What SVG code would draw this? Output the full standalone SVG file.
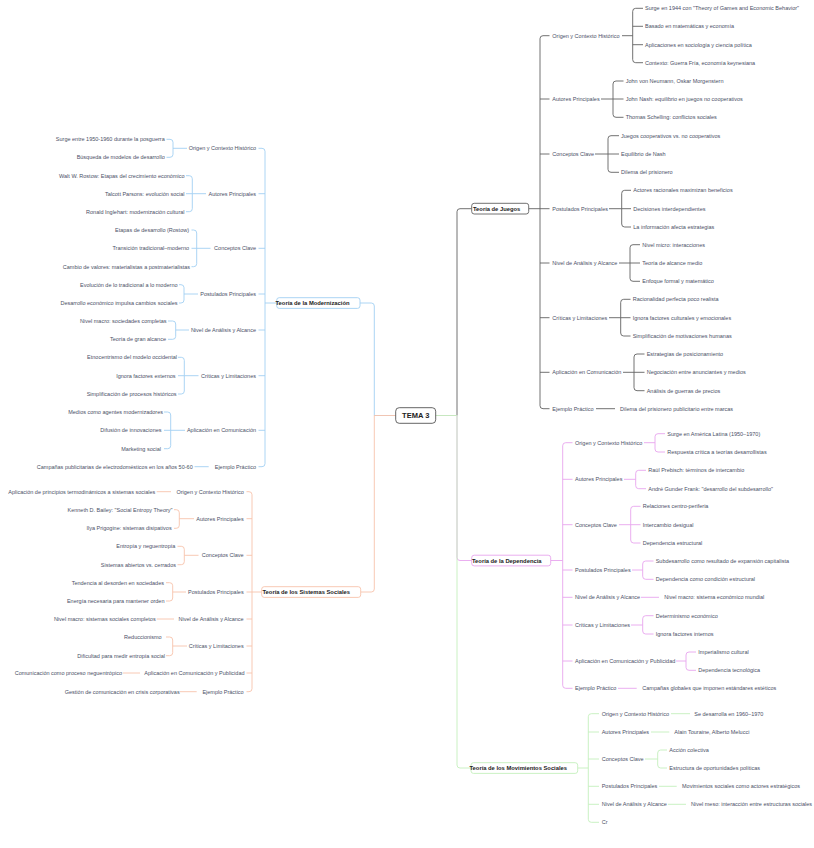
<svg xmlns="http://www.w3.org/2000/svg" width="814" height="848" viewBox="0 0 814 848">
<style>
text{font-family:"Liberation Sans",Arial,sans-serif;dominant-baseline:central}
.t{font-size:5.5px;fill:#4a4f66}
.e{text-anchor:end}
.h{font-size:5.8px;font-weight:bold;fill:#222}
.r{font-size:7.5px;font-weight:bold;fill:#222;text-anchor:middle}
.box{fill:#fff;stroke-width:0.9}
.ln{fill:none;stroke-width:0.9;stroke-linejoin:round}
.gy{stroke:#626262}.bl{stroke:#a3d0f3}.pk{stroke:#e8a5ee}.gr{stroke:#c4efbc}.or{stroke:#f7c3ac}
</style>
<rect width="814" height="848" fill="#fff"/>
<g id="connectors">
<path class="ln gy" d="M435.7 415.5H457V211.7Q457 208.7 460 208.7H471.7"/>
<path class="ln pk" d="M435.7 415.5H457V557.5Q457 560.5 460 560.5H471.7"/>
<path class="ln gr" d="M435.7 415.5H457V765Q457 768 460 768H471"/>
<path class="ln bl" d="M395.7 415.5H374.3V306Q374.3 303 371.3 303H360"/>
<path class="ln or" d="M395.7 415.5H374.3V589Q374.3 592 371.3 592H360.7"/>
<path class="ln gy" d="M528.7 208.7H540M549.5 35.7H543Q540 35.7 540 38.7V405.7Q540 408.7 543 408.7H549.5M540 99H549.5M540 154H549.5M540 208.7H549.5M540 263H549.5M540 317.7H549.5M540 372.3H549.5"/>
<path class="ln gy" d="M622 35.7H632.7M643 8.3H635.7Q632.7 8.3 632.7 11.3V59.7Q632.7 62.7 635.7 62.7H643M632.7 26.3H643M632.7 44.7H643"/>
<path class="ln gy" d="M601 99H613M623.5 81H616Q613 81 613 84V114.3Q613 117.3 616 117.3H623.5M613 99H623.5"/>
<path class="ln gy" d="M595 154H608M619 135.7H611Q608 135.7 608 138.7V169.3Q608 172.3 611 172.3H619M608 154H619"/>
<path class="ln gy" d="M609 208.7H621.7M631 190.3H624.7Q621.7 190.3 621.7 193.3V224Q621.7 227 624.7 227H631M621.7 208.7H631"/>
<path class="ln gy" d="M619 263H630M640 244.7H633Q630 244.7 630 247.7V278.3Q630 281.3 633 281.3H640M630 263H640"/>
<path class="ln gy" d="M609 317.7H620.7M630.5 299.3H623.7Q620.7 299.3 620.7 302.3V333Q620.7 336 623.7 336H630.5M620.7 317.7H630.5"/>
<path class="ln gy" d="M623 372.3H634M644.5 354H637Q634 354 634 357V387.7Q634 390.7 637 390.7H644.5M634 372.3H644.5"/>
<path class="ln gy" d="M596 408.7H615"/>
<path class="ln pk" d="M550.7 560.5H562.7M572.5 442.7H565.7Q562.7 442.7 562.7 445.7V685.3Q562.7 688.3 565.7 688.3H572.5M562.7 479.3H572.5M562.7 524.7H572.5M562.7 570H572.5M562.7 597.3H572.5M562.7 625H572.5M562.7 661H572.5"/>
<path class="ln pk" d="M644 442.7H655M665 433.7H658Q655 433.7 655 436.7V449Q655 452 658 452H665"/>
<path class="ln pk" d="M624 479.3H635.7M646 470.3H638.7Q635.7 470.3 635.7 473.3V485.7Q635.7 488.7 638.7 488.7H646"/>
<path class="ln pk" d="M619 524.7H630.7M640.5 506.3H633.7Q630.7 506.3 630.7 509.3V540Q630.7 543 633.7 543H640.5M630.7 524.7H640.5"/>
<path class="ln pk" d="M632 570H642.7M653.5 561H645.7Q642.7 561 642.7 564V576.3Q642.7 579.3 645.7 579.3H653.5"/>
<path class="ln pk" d="M641 597.3H659"/>
<path class="ln pk" d="M631 625H642.7M653.5 615.7H645.7Q642.7 615.7 642.7 618.7V631Q642.7 634 645.7 634H653.5"/>
<path class="ln pk" d="M676 661H686M696 652H689Q686 652 686 655V667.3Q686 670.3 689 670.3H696"/>
<path class="ln pk" d="M618 688.3H636.7"/>
<path class="ln gr" d="M577.7 768H588.3M599 713.7H591.3Q588.3 713.7 588.3 716.7V819.3Q588.3 822.3 591.3 822.3H599M588.3 732H599M588.3 759H599M588.3 786.3H599M588.3 804.3H599"/>
<path class="ln gr" d="M671 713.7H690"/>
<path class="ln gr" d="M651 732H669.3"/>
<path class="ln gr" d="M645 759H657.7M667 750H660.7Q657.7 750 657.7 753V765Q657.7 768 660.7 768H667"/>
<path class="ln gr" d="M659 786.3H676.7"/>
<path class="ln gr" d="M668 804.3H686"/>
<path class="ln bl" d="M276.7 303H265M258.5 148.3H262Q265 148.3 265 151.3V463.7Q265 466.7 262 466.7H258.5M265 193.7H258.5M265 248.3H258.5M265 294H258.5M265 330H258.5M265 375.7H258.5M265 430.3H258.5"/>
<path class="ln bl" d="M187 148.3H173M166.5 139.3H170Q173 139.3 173 142.3V154.3Q173 157.3 170 157.3H166.5"/>
<path class="ln bl" d="M206 193.7H192.3M186 175.7H189.3Q192.3 175.7 192.3 178.7V208.7Q192.3 211.7 189.3 211.7H186M192.3 193.7H186"/>
<path class="ln bl" d="M210.5 248.3H196.7M191.5 230H193.7Q196.7 230 196.7 233V263.7Q196.7 266.7 193.7 266.7H191.5M196.7 248.3H191.5"/>
<path class="ln bl" d="M198 294H184M179 284.7H181Q184 284.7 184 287.7V300Q184 303 181 303H179"/>
<path class="ln bl" d="M189 330H175.7M168 321H172.7Q175.7 321 175.7 324V336.3Q175.7 339.3 172.7 339.3H168"/>
<path class="ln bl" d="M198.5 375.7H184.3M178 357.3H181.3Q184.3 357.3 184.3 360.3V391Q184.3 394 181.3 394H178M184.3 375.7H178"/>
<path class="ln bl" d="M185 430.3H170.7M164 412H167.7Q170.7 412 170.7 415V445.7Q170.7 448.7 167.7 448.7H164M170.7 430.3H164"/>
<path class="ln bl" d="M208.7 466.7H194.5"/>
<path class="ln or" d="M261.7 592H252M246.5 491.7H249Q252 491.7 252 494.7V688.7Q252 691.7 249 691.7H246.5M252 518.7H246.5M252 555.3H246.5M252 592H246.5M252 619H246.5M252 646H246.5M252 673H246.5"/>
<path class="ln or" d="M171 491.7H156.7"/>
<path class="ln or" d="M194 518.7H179.3M174 509.7H176.3Q179.3 509.7 179.3 512.7V525.3Q179.3 528.3 176.3 528.3H174"/>
<path class="ln or" d="M198.5 555.3H184.3M177.5 546.3H181.3Q184.3 546.3 184.3 549.3V561.7Q184.3 564.7 181.3 564.7H177.5"/>
<path class="ln or" d="M186 592H172.7M166 582.7H169.7Q172.7 582.7 172.7 585.7V598Q172.7 601 169.7 601H166"/>
<path class="ln or" d="M174 619H156.7"/>
<path class="ln or" d="M187 646H172.7M166 637H169.7Q172.7 637 172.7 640V652.7Q172.7 655.7 169.7 655.7H166"/>
<path class="ln or" d="M140 673H122.7"/>
<path class="ln or" d="M196.7 691.7H180"/>
</g>
<g id="root"><rect class="box" x="395.7" y="407.7" width="40" height="15.6" rx="3.5" stroke="#555"/><text class="r" x="415.7" y="415.7">TEMA 3</text></g>
<g id="juegos"><rect class="box" x="471.7" y="203.3" width="57" height="10.7" rx="2.5" stroke="#626262"/><text class="h" x="473" y="208.7">Teoría de Juegos</text></g>
<g id="j-origen"><text class="t" x="552.3" y="35.7">Origen y Contexto Histórico</text></g>
<g id="j-origen-1"><text class="t" x="645" y="8.3">Surge en 1944 con "Theory of Games and Economic Behavior"</text></g>
<g id="j-origen-2"><text class="t" x="645" y="26.3">Basado en matemáticas y economía</text></g>
<g id="j-origen-3"><text class="t" x="645" y="44.7">Aplicaciones en sociología y ciencia política</text></g>
<g id="j-origen-4"><text class="t" x="645" y="62.7">Contexto: Guerra Fría, economía keynesiana</text></g>
<g id="j-autores"><text class="t" x="552.3" y="99">Autores Principales</text></g>
<g id="j-autores-1"><text class="t" x="625.7" y="81">John von Neumann, Oskar Morgenstern</text></g>
<g id="j-autores-2"><text class="t" x="625.7" y="99">John Nash: equilibrio en juegos no cooperativos</text></g>
<g id="j-autores-3"><text class="t" x="625.7" y="117.3">Thomas Schelling: conflictos sociales</text></g>
<g id="j-conceptos"><text class="t" x="552.3" y="154">Conceptos Clave</text></g>
<g id="j-conceptos-1"><text class="t" x="621" y="135.7">Juegos cooperativos vs. no cooperativos</text></g>
<g id="j-conceptos-2"><text class="t" x="621" y="154">Equilibrio de Nash</text></g>
<g id="j-conceptos-3"><text class="t" x="621" y="172.3">Dilema del prisionero</text></g>
<g id="j-postulados"><text class="t" x="552.3" y="208.7">Postulados Principales</text></g>
<g id="j-postulados-1"><text class="t" x="633.3" y="190.3">Actores racionales maximizan beneficios</text></g>
<g id="j-postulados-2"><text class="t" x="633.3" y="208.7">Decisiones interdependientes</text></g>
<g id="j-postulados-3"><text class="t" x="633.3" y="227">La información afecta estrategias</text></g>
<g id="j-nivel"><text class="t" x="552.3" y="263">Nivel de Análisis y Alcance</text></g>
<g id="j-nivel-1"><text class="t" x="642.3" y="244.7">Nivel micro: interacciones</text></g>
<g id="j-nivel-2"><text class="t" x="642.3" y="263">Teoría de alcance medio</text></g>
<g id="j-nivel-3"><text class="t" x="642.3" y="281.3">Enfoque formal y matemático</text></g>
<g id="j-criticas"><text class="t" x="552.3" y="317.7">Críticas y Limitaciones</text></g>
<g id="j-criticas-1"><text class="t" x="632.7" y="299.3">Racionalidad perfecta poco realista</text></g>
<g id="j-criticas-2"><text class="t" x="632.7" y="317.7">Ignora factores culturales y emocionales</text></g>
<g id="j-criticas-3"><text class="t" x="632.7" y="336">Simplificación de motivaciones humanas</text></g>
<g id="j-aplicacion"><text class="t" x="552.3" y="372.3">Aplicación en Comunicación</text></g>
<g id="j-aplicacion-1"><text class="t" x="646.7" y="354">Estrategias de posicionamiento</text></g>
<g id="j-aplicacion-2"><text class="t" x="646.7" y="372.3">Negociación entre anunciantes y medios</text></g>
<g id="j-aplicacion-3"><text class="t" x="646.7" y="390.7">Análisis de guerras de precios</text></g>
<g id="j-ejemplo"><text class="t" x="552.3" y="408.7">Ejemplo Práctico</text></g>
<g id="j-ejemplo-1"><text class="t" x="620" y="408.7">Dilema del prisionero publicitario entre marcas</text></g>
<g id="dependencia"><rect class="box" x="471.7" y="555.2" width="79" height="10.7" rx="2.5" stroke="#e8a5ee"/><text class="h" x="472" y="560.5">Teoría de la Dependencia</text></g>
<g id="d-origen"><text class="t" x="575" y="442.7">Origen y Contexto Histórico</text></g>
<g id="d-origen-1"><text class="t" x="667.3" y="433.7">Surge en América Latina (1950–1970)</text></g>
<g id="d-origen-2"><text class="t" x="667.3" y="452">Respuesta crítica a teorías desarrollistas</text></g>
<g id="d-autores"><text class="t" x="575" y="479.3">Autores Principales</text></g>
<g id="d-autores-1"><text class="t" x="648.3" y="470.3">Raúl Prebisch: términos de intercambio</text></g>
<g id="d-autores-2"><text class="t" x="648.3" y="488.7">André Gunder Frank: "desarrollo del subdesarrollo"</text></g>
<g id="d-conceptos"><text class="t" x="575" y="524.7">Conceptos Clave</text></g>
<g id="d-conceptos-1"><text class="t" x="642.7" y="506.3">Relaciones centro-periferia</text></g>
<g id="d-conceptos-2"><text class="t" x="642.7" y="524.7">Intercambio desigual</text></g>
<g id="d-conceptos-3"><text class="t" x="642.7" y="543">Dependencia estructural</text></g>
<g id="d-postulados"><text class="t" x="575" y="570">Postulados Principales</text></g>
<g id="d-postulados-1"><text class="t" x="655.7" y="561">Subdesarrollo como resultado de expansión capitalista</text></g>
<g id="d-postulados-2"><text class="t" x="655.7" y="579.3">Dependencia como condición estructural</text></g>
<g id="d-nivel"><text class="t" x="575" y="597.3">Nivel de Análisis y Alcance</text></g>
<g id="d-nivel-1"><text class="t" x="664.3" y="597.3">Nivel macro: sistema económico mundial</text></g>
<g id="d-criticas"><text class="t" x="575" y="625">Críticas y Limitaciones</text></g>
<g id="d-criticas-1"><text class="t" x="655.7" y="615.7">Determinismo económico</text></g>
<g id="d-criticas-2"><text class="t" x="655.7" y="634">Ignora factores internos</text></g>
<g id="d-aplicacion"><text class="t" x="575" y="661">Aplicación en Comunicación y Publicidad</text></g>
<g id="d-aplicacion-1"><text class="t" x="698.3" y="652">Imperialismo cultural</text></g>
<g id="d-aplicacion-2"><text class="t" x="698.3" y="670.3">Dependencia tecnológica</text></g>
<g id="d-ejemplo"><text class="t" x="575" y="688.3">Ejemplo Práctico</text></g>
<g id="d-ejemplo-1"><text class="t" x="642.3" y="688.3">Campañas globales que imponen estándares estéticos</text></g>
<g id="movimientos"><rect class="box" x="471" y="762.7" width="106.7" height="10.7" rx="2.5" stroke="#c4efbc"/><text class="h" x="469.5" y="768">Teoría de los Movimientos Sociales</text></g>
<g id="m-origen"><text class="t" x="601.7" y="713.7">Origen y Contexto Histórico</text></g>
<g id="m-origen-1"><text class="t" x="694.3" y="713.7">Se desarrolla en 1960–1970</text></g>
<g id="m-autores"><text class="t" x="601.7" y="732">Autores Principales</text></g>
<g id="m-autores-1"><text class="t" x="674.3" y="732">Alain Touraine, Alberto Melucci</text></g>
<g id="m-conceptos"><text class="t" x="601.7" y="759">Conceptos Clave</text></g>
<g id="m-conceptos-1"><text class="t" x="669.3" y="750">Acción colectiva</text></g>
<g id="m-conceptos-2"><text class="t" x="669.3" y="768">Estructura de oportunidades políticas</text></g>
<g id="m-postulados"><text class="t" x="601.7" y="786.3">Postulados Principales</text></g>
<g id="m-postulados-1"><text class="t" x="682" y="786.3">Movimientos sociales como actores estratégicos</text></g>
<g id="m-nivel"><text class="t" x="601.7" y="804.3">Nivel de Análisis y Alcance</text></g>
<g id="m-nivel-1"><text class="t" x="691" y="804.3">Nivel meso: interacción entre estructuras sociales</text></g>
<g id="m-cr"><text class="t" x="601.7" y="822.3">Cr</text></g>
<g id="modernizacion"><rect class="box" x="276.7" y="297.7" width="83.3" height="10.7" rx="2.5" stroke="#a3d0f3"/><text class="h" x="275.5" y="303">Teoría de la Modernización</text></g>
<g id="mo-origen"><text class="t e" x="256" y="148.3">Origen y Contexto Histórico</text></g>
<g id="mo-origen-1"><text class="t e" x="164.7" y="139.3">Surge entre 1950-1960 durante la posguerra</text></g>
<g id="mo-origen-2"><text class="t e" x="164.7" y="157.3">Búsqueda de modelos de desarrollo</text></g>
<g id="mo-autores"><text class="t e" x="256" y="193.7">Autores Principales</text></g>
<g id="mo-autores-1"><text class="t e" x="184.5" y="175.7">Walt W. Rostow: Etapas del crecimiento económico</text></g>
<g id="mo-autores-2"><text class="t e" x="184.5" y="193.7">Talcott Parsons: evolución social</text></g>
<g id="mo-autores-3"><text class="t e" x="184.5" y="211.7">Ronald Inglehart: modernización cultural</text></g>
<g id="mo-conceptos"><text class="t e" x="256" y="248.3">Conceptos Clave</text></g>
<g id="mo-conceptos-1"><text class="t e" x="189" y="230">Etapas de desarrollo (Rostow)</text></g>
<g id="mo-conceptos-2"><text class="t e" x="189" y="248.3">Transición tradicional–moderno</text></g>
<g id="mo-conceptos-3"><text class="t e" x="190" y="266.7">Cambio de valores: materialistas a postmaterialistas</text></g>
<g id="mo-postulados"><text class="t e" x="256" y="294">Postulados Principales</text></g>
<g id="mo-postulados-1"><text class="t e" x="177.5" y="284.7">Evolución de lo tradicional a lo moderno</text></g>
<g id="mo-postulados-2"><text class="t e" x="177.5" y="303">Desarrollo económico impulsa cambios sociales</text></g>
<g id="mo-nivel"><text class="t e" x="256" y="330">Nivel de Análisis y Alcance</text></g>
<g id="mo-nivel-1"><text class="t e" x="166.5" y="321">Nivel macro: sociedades completas</text></g>
<g id="mo-nivel-2"><text class="t e" x="166" y="339.3">Teoría de gran alcance</text></g>
<g id="mo-criticas"><text class="t e" x="256" y="375.7">Críticas y Limitaciones</text></g>
<g id="mo-criticas-1"><text class="t e" x="177" y="357.3">Etnocentrismo del modelo occidental</text></g>
<g id="mo-criticas-2"><text class="t e" x="175.5" y="375.7">Ignora factores externos</text></g>
<g id="mo-criticas-3"><text class="t e" x="176.5" y="394">Simplificación de procesos históricos</text></g>
<g id="mo-aplicacion"><text class="t e" x="256" y="430.3">Aplicación en Comunicación</text></g>
<g id="mo-aplicacion-1"><text class="t e" x="163" y="412">Medios como agentes modernizadores</text></g>
<g id="mo-aplicacion-2"><text class="t e" x="161.5" y="430.3">Difusión de innovaciones</text></g>
<g id="mo-aplicacion-3"><text class="t e" x="161" y="448.7">Marketing social</text></g>
<g id="mo-ejemplo"><text class="t e" x="256" y="466.7">Ejemplo Práctico</text></g>
<g id="mo-ejemplo-1"><text class="t e" x="192.7" y="466.7">Campañas publicitarias de electrodomésticos en los años 50-60</text></g>
<g id="sistemas"><rect class="box" x="261.7" y="586.7" width="99" height="10.7" rx="2.5" stroke="#f7c3ac"/><text class="h" x="262.5" y="592">Teoría de los Sistemas Sociales</text></g>
<g id="s-origen"><text class="t e" x="243.7" y="491.7">Origen y Contexto Histórico</text></g>
<g id="s-origen-1"><text class="t e" x="155.3" y="491.7">Aplicación de principios termodinámicos a sistemas sociales</text></g>
<g id="s-autores"><text class="t e" x="243.7" y="518.7">Autores Principales</text></g>
<g id="s-autores-1"><text class="t e" x="172.5" y="509.7">Kenneth D. Bailey: "Social Entropy Theory"</text></g>
<g id="s-autores-2"><text class="t e" x="171.7" y="528.3">Ilya Prigogine: sistemas disipativos</text></g>
<g id="s-conceptos"><text class="t e" x="243.7" y="555.3">Conceptos Clave</text></g>
<g id="s-conceptos-1"><text class="t e" x="175.3" y="546.3">Entropía y neguentropía</text></g>
<g id="s-conceptos-2"><text class="t e" x="176" y="564.7">Sistemas abiertos vs. cerrados</text></g>
<g id="s-postulados"><text class="t e" x="243.7" y="592">Postulados Principales</text></g>
<g id="s-postulados-1"><text class="t e" x="164" y="582.7">Tendencia al desorden en sociedades</text></g>
<g id="s-postulados-2"><text class="t e" x="164.5" y="601">Energía necesaria para mantener orden</text></g>
<g id="s-nivel"><text class="t e" x="243.7" y="619">Nivel de Análisis y Alcance</text></g>
<g id="s-nivel-1"><text class="t e" x="155.7" y="619">Nivel macro: sistemas sociales completos</text></g>
<g id="s-criticas"><text class="t e" x="243.7" y="646">Críticas y Limitaciones</text></g>
<g id="s-criticas-1"><text class="t e" x="161.7" y="637">Reduccionismo</text></g>
<g id="s-criticas-2"><text class="t e" x="165" y="655.7">Dificultad para medir entropía social</text></g>
<g id="s-aplicacion"><text class="t e" x="244.5" y="673">Aplicación en Comunicación y Publicidad</text></g>
<g id="s-aplicacion-1"><text class="t e" x="122" y="673">Comunicación como proceso neguentrópico</text></g>
<g id="s-ejemplo"><text class="t e" x="243.7" y="691.7">Ejemplo Práctico</text></g>
<g id="s-ejemplo-1"><text class="t e" x="179.7" y="691.7">Gestión de comunicación en crisis corporativas</text></g>
</svg>
